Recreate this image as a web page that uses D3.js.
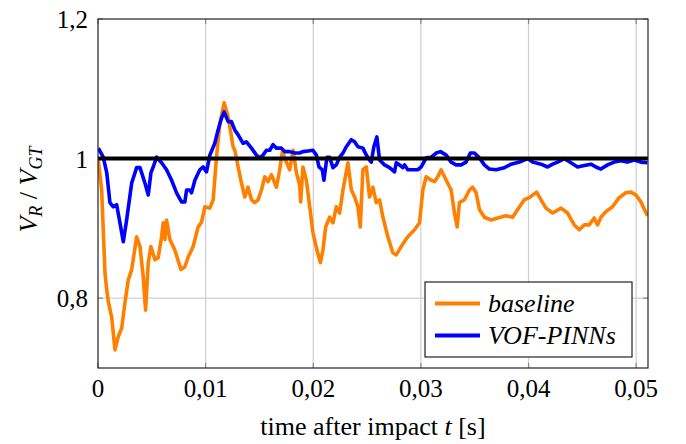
<!DOCTYPE html>
<html>
<head>
<meta charset="utf-8">
<script src="https://cdn.jsdelivr.net/npm/d3@7"></script>
<style>
  body { margin: 0; background: #fff; }
</style>
</head>
<body>
<div id="chart"></div>
<script>
// tick values and labels
const xTicks = [0, 0.01, 0.02, 0.03, 0.04, 0.05];
const xTickLabels = ["0", "0,01", "0,02", "0,03", "0,04", "0,05"];
const yTicks = [0.8, 1.0, 1.2];
const yTickLabels = ["0,8", "1", "1,2"];

// baseline series (t [s], V_R/V_GT)
const baselineT = [0, 0.00034, 0.00065, 0.00081, 0.00096, 0.00127, 0.00158, 0.00188, 0.00220, 0.00250,
  0.00281, 0.00313, 0.00359, 0.00390, 0.00420, 0.00442, 0.00467, 0.00492, 0.00529, 0.00559,
  0.00591, 0.00606, 0.00622, 0.00637, 0.00668, 0.00714, 0.00770, 0.00807, 0.00838, 0.00884,
  0.00930, 0.00962, 0.00993, 0.01039, 0.01070, 0.01101, 0.01132, 0.01172, 0.01209, 0.01255,
  0.01271, 0.01302, 0.01333, 0.01364, 0.01394, 0.01426, 0.01456, 0.01487, 0.01519, 0.01549,
  0.01580, 0.01611, 0.01658, 0.01688, 0.01713, 0.01750, 0.01781, 0.01812, 0.01843, 0.01874,
  0.01883, 0.01904, 0.01936, 0.01967, 0.01997, 0.02034, 0.02066, 0.02090, 0.02115, 0.02152,
  0.02183, 0.02214, 0.02245, 0.02276, 0.02322, 0.02354, 0.02384, 0.02415, 0.02437, 0.02461,
  0.02493, 0.02523, 0.02554, 0.02585, 0.02616, 0.02647, 0.02693, 0.02739, 0.02771, 0.02817,
  0.02878, 0.02941, 0.02987, 0.03018, 0.03049, 0.03096, 0.03126, 0.03157, 0.03188, 0.03235,
  0.03281, 0.03312, 0.03337, 0.03358, 0.03404, 0.03451, 0.03481, 0.03513, 0.03544, 0.03590,
  0.03652, 0.03713, 0.03791, 0.03853, 0.03899, 0.03961, 0.04007, 0.04075, 0.04116, 0.04162,
  0.04224, 0.04302, 0.04363, 0.04425, 0.04471, 0.04518, 0.04564, 0.04610, 0.04641, 0.04673,
  0.04719, 0.04780, 0.04842, 0.04904, 0.04951, 0.04997, 0.05044, 0.05105];
const baselineV = [1.001, 0.955, 0.836, 0.812, 0.795, 0.773, 0.726, 0.745, 0.757, 0.793,
  0.826, 0.841, 0.888, 0.874, 0.831, 0.783, 0.851, 0.874, 0.855, 0.858,
  0.888, 0.908, 0.884, 0.912, 0.884, 0.869, 0.841, 0.845, 0.859, 0.874,
  0.902, 0.909, 0.931, 0.929, 0.941, 1.002, 1.051, 1.080, 1.060, 1.017,
  1.012, 0.988, 0.965, 0.945, 0.959, 0.941, 0.937, 0.941, 0.955, 0.974,
  0.967, 0.977, 0.959, 0.984, 1.010, 0.995, 0.984, 1.012, 0.980, 0.962,
  0.938, 0.988, 0.969, 0.931, 0.894, 0.869, 0.851, 0.869, 0.902, 0.916,
  0.908, 0.931, 0.922, 0.955, 0.994, 0.955, 0.945, 0.931, 0.902, 0.984,
  0.988, 0.945, 0.959, 0.937, 0.941, 0.916, 0.888, 0.865, 0.862, 0.874,
  0.888, 0.898, 0.908, 0.955, 0.974, 0.969, 0.967, 0.974, 0.984, 0.969,
  0.955, 0.922, 0.902, 0.937, 0.941, 0.955, 0.959, 0.951, 0.927, 0.916,
  0.912, 0.915, 0.918, 0.916, 0.927, 0.941, 0.944, 0.952, 0.941, 0.929,
  0.922, 0.929, 0.922, 0.905, 0.898, 0.905, 0.905, 0.915, 0.905, 0.916,
  0.924, 0.931, 0.944, 0.951, 0.952, 0.948, 0.938, 0.918];

// VOF-PINNs series
const pinnT = [0.00003, 0.00049, 0.00081, 0.00111, 0.00142, 0.00173, 0.00204, 0.00235, 0.00266, 0.00313,
  0.00359, 0.00390, 0.00436, 0.00467, 0.00492, 0.00513, 0.00545, 0.00591, 0.00637, 0.00684,
  0.00730, 0.00776, 0.00807, 0.00823, 0.00853, 0.00869, 0.00900, 0.00946, 0.00977, 0.01008,
  0.01039, 0.01085, 0.01116, 0.01148, 0.01172, 0.01209, 0.01240, 0.01271, 0.01302, 0.01348,
  0.01379, 0.01426, 0.01472, 0.01503, 0.01533, 0.01565, 0.01596, 0.01626, 0.01658, 0.01704,
  0.01735, 0.01781, 0.01827, 0.01874, 0.01904, 0.01951, 0.01997, 0.02029, 0.02053, 0.02084,
  0.02099, 0.02127, 0.02152, 0.02183, 0.02214, 0.02245, 0.02276, 0.02307, 0.02353, 0.02384,
  0.02415, 0.02461, 0.02493, 0.02523, 0.02539, 0.02563, 0.02591, 0.02616, 0.02662, 0.02709,
  0.02755, 0.02771, 0.02801, 0.02832, 0.02848, 0.02878, 0.02910, 0.02971, 0.03003, 0.03049,
  0.03096, 0.03142, 0.03182, 0.03235, 0.03281, 0.03327, 0.03374, 0.03420, 0.03460, 0.03497,
  0.03544, 0.03590, 0.03636, 0.03699, 0.03776, 0.03838, 0.03915, 0.03992, 0.04038, 0.04116,
  0.04177, 0.04224, 0.04270, 0.04332, 0.04394, 0.04456, 0.04518, 0.04580, 0.04626, 0.04673,
  0.04734, 0.04796, 0.04858, 0.04919, 0.04981, 0.05044, 0.05105];
const pinnV = [1.015, 1.002, 0.980, 0.937, 0.931, 0.934, 0.908, 0.881, 0.912, 0.965,
  0.987, 0.987, 0.965, 0.948, 0.980, 0.988, 1.002, 0.994, 0.984, 0.969,
  0.951, 0.938, 0.938, 0.955, 0.955, 0.951, 0.969, 0.984, 0.988, 0.981,
  1.005, 1.022, 1.041, 1.058, 1.067, 1.053, 1.053, 1.041, 1.034, 1.022,
  1.024, 1.015, 1.005, 1.001, 1.005, 1.012, 1.012, 1.020, 1.015, 1.015,
  1.010, 1.010, 1.008, 1.008, 1.010, 1.011, 1.012, 1.005, 0.988, 0.984,
  0.969, 1.002, 1.002, 0.987, 0.991, 1.002, 1.008, 1.017, 1.027, 1.024,
  1.017, 1.015, 1.005, 0.998, 0.995, 1.017, 1.031, 0.998, 0.991, 0.987,
  0.981, 0.994, 0.991, 0.987, 0.991, 0.984, 0.984, 0.984, 0.988, 1.001,
  1.002, 1.008, 1.010, 1.005, 0.995, 0.991, 0.991, 0.995, 1.008, 1.008,
  1.001, 0.991, 0.985, 0.984, 0.987, 0.992, 0.995, 1.000, 0.995, 0.992,
  0.988, 0.992, 0.995, 1.000, 0.994, 0.988, 0.990, 0.992, 0.988, 0.985,
  0.991, 0.995, 0.997, 0.995, 0.998, 0.995, 0.994];

const referenceValue = 1.0;
const xDomain = [0, 0.0511];
const yDomain = [0.7, 1.2];

const serif = "Liberation Serif";

const width = 686, height = 444;
const margin = { left: 98, right: 38, top: 19, bottom: 76 };
const plotW = width - margin.left - margin.right;
const plotH = height - margin.top - margin.bottom;

const svg = d3.select("#chart").append("svg")
  .attr("width", width)
  .attr("height", height)
  .attr("font-family", serif);

const x = d3.scaleLinear().domain(xDomain).range([0, plotW]);
const y = d3.scaleLinear().domain(yDomain).range([plotH, 0]);

const g = svg.append("g").attr("transform", `translate(${margin.left},${margin.top})`);

svg.append("defs").append("clipPath").attr("id", "clip")
  .append("rect").attr("width", plotW).attr("height", plotH);

// grid
g.append("g").selectAll("line").data(xTicks.filter(d => d > 0)).join("line")
  .attr("x1", d => x(d)).attr("x2", d => x(d))
  .attr("y1", 0).attr("y2", plotH)
  .attr("stroke", "#cfcfcf").attr("stroke-width", 1.2);
g.append("g").selectAll("line").data(yTicks.filter(d => d < 1.2)).join("line")
  .attr("x1", 0).attr("x2", plotW)
  .attr("y1", d => y(d)).attr("y2", d => y(d))
  .attr("stroke", "#cfcfcf").attr("stroke-width", 1.2);

// tick marks (inside, like pgfplots)
const tickLen = 5;
xTicks.forEach(d => {
  g.append("line").attr("x1", x(d)).attr("x2", x(d)).attr("y1", plotH).attr("y2", plotH - tickLen)
    .attr("stroke", "#888").attr("stroke-width", 1.2);
  g.append("line").attr("x1", x(d)).attr("x2", x(d)).attr("y1", 0).attr("y2", tickLen)
    .attr("stroke", "#888").attr("stroke-width", 1.2);
});
yTicks.forEach(d => {
  g.append("line").attr("x1", 0).attr("x2", tickLen).attr("y1", y(d)).attr("y2", y(d))
    .attr("stroke", "#888").attr("stroke-width", 1.2);
  g.append("line").attr("x1", plotW).attr("x2", plotW - tickLen).attr("y1", y(d)).attr("y2", y(d))
    .attr("stroke", "#888").attr("stroke-width", 1.2);
});

const line = d3.line().x(d => x(d[0])).y(d => y(d[1]));
const lines = g.append("g").attr("clip-path", "url(#clip)");

lines.append("path")
  .datum(baselineT.map((t, i) => [t, baselineV[i]]))
  .attr("fill", "none").attr("stroke", "#ff8000").attr("stroke-width", 3.6)
  .attr("stroke-linejoin", "round")
  .attr("d", line);

lines.append("path")
  .datum(pinnT.map((t, i) => [t, pinnV[i]]))
  .attr("fill", "none").attr("stroke", "#0000ff").attr("stroke-width", 3.6)
  .attr("stroke-linejoin", "round")
  .attr("d", line);

// reference line
lines.append("line")
  .attr("x1", x(xDomain[0])).attr("x2", x(xDomain[1]))
  .attr("y1", y(referenceValue)).attr("y2", y(referenceValue))
  .attr("stroke", "#000").attr("stroke-width", 4);

// frame
g.append("rect").attr("width", plotW).attr("height", plotH)
  .attr("fill", "none").attr("stroke", "#222").attr("stroke-width", 1.2);

// tick labels
g.selectAll("text.xt").data(xTicks).join("text")
  .attr("class", "xt")
  .attr("x", d => x(d)).attr("y", plotH + 28.5)
  .attr("text-anchor", "middle").attr("font-family", serif).attr("font-size", 25)
  .text((d, i) => xTickLabels[i]);
g.selectAll("text.yt").data(yTicks).join("text")
  .attr("class", "yt")
  .attr("x", -10).attr("y", d => y(d) + 9)
  .attr("text-anchor", "end").attr("font-family", serif).attr("font-size", 25)
  .text((d, i) => yTickLabels[i]);

// axis titles
const xt = svg.append("text")
  .attr("x", margin.left + plotW / 2).attr("y", 435)
  .attr("text-anchor", "middle").attr("font-family", serif).attr("font-size", 26);
xt.append("tspan").text("time after impact ");
xt.append("tspan").attr("font-style", "italic").text("t");
xt.append("tspan").text(" [s]");

const yt = svg.append("text")
  .attr("transform", `translate(37,${margin.top + plotH / 2 - 4}) rotate(-90)`)
  .attr("text-anchor", "middle").attr("font-family", serif).attr("font-size", 26);
yt.append("tspan").attr("font-style", "italic").text("V");
yt.append("tspan").attr("font-style", "italic").attr("font-size", 18).attr("dy", 5).text("R");
yt.append("tspan").attr("dy", -5).text(" / ");
yt.append("tspan").attr("font-style", "italic").text("V");
yt.append("tspan").attr("font-style", "italic").attr("font-size", 18).attr("dy", 5).text("GT");

// legend
const legend = svg.append("g").attr("transform", "translate(425,282)");
legend.append("rect").attr("width", 207).attr("height", 75)
  .attr("fill", "#fff").attr("stroke", "#222").attr("stroke-width", 1.2);
const legendItems = [["baseline", "#ff8000"], ["VOF-PINNs", "#0000ff"]];
legendItems.forEach(([name, color], i) => {
  const yy = 21.5 + i * 32;
  legend.append("line").attr("x1", 10).attr("x2", 55).attr("y1", yy).attr("y2", yy)
    .attr("stroke", color).attr("stroke-width", 3.8);
  legend.append("text").attr("x", 63).attr("y", yy + 8.5)
    .attr("font-family", serif).attr("font-size", 26).attr("font-style", "italic").text(name);
});
</script>
</body>
</html>
